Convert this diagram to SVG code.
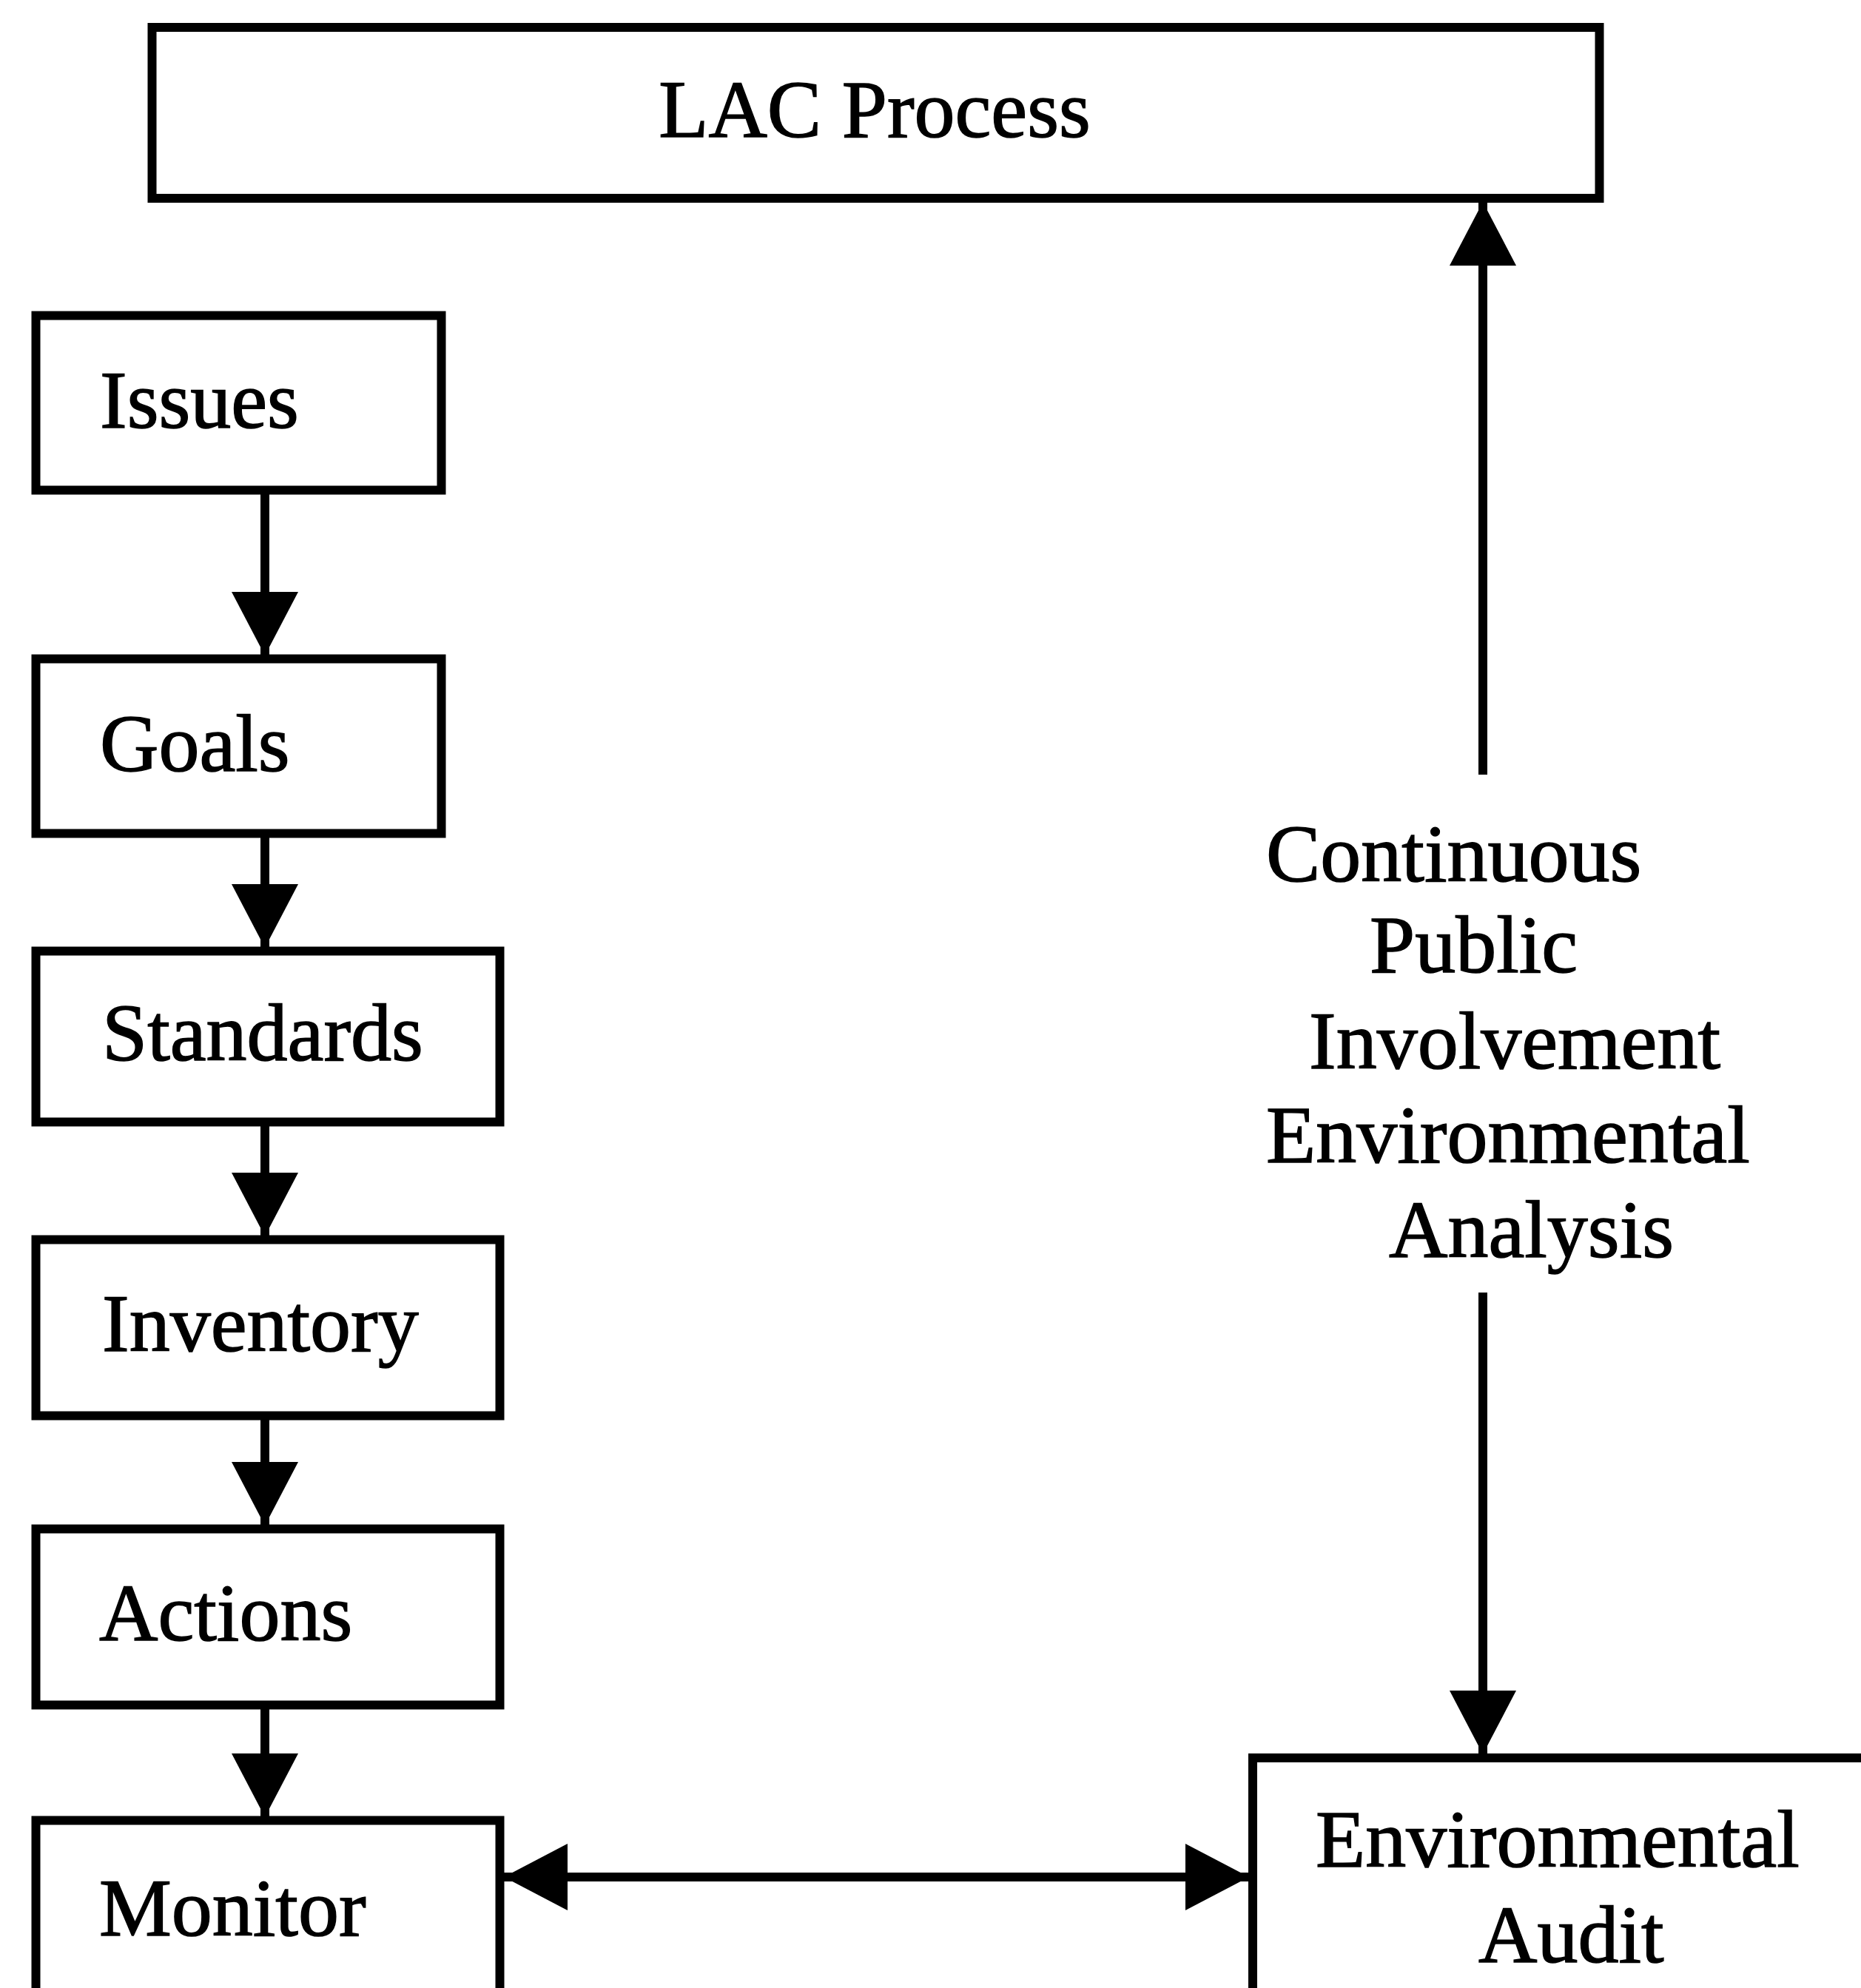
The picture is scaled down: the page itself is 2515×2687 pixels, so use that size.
<svg xmlns="http://www.w3.org/2000/svg" width="2515" height="2687" viewBox="0 0 2515 2687">
<style>
.box{fill:#fff;stroke:#000;stroke-width:12}
.lbl{font-family:"Liberation Serif","Times New Roman",serif;font-size:110px;fill:#000;stroke:#000;stroke-width:1.5}
.con{stroke:#000;stroke-width:12;fill:none}
</style>
<defs>
<marker id="ah" viewBox="0 0 86 90" refX="86" refY="45" markerWidth="86" markerHeight="90" markerUnits="userSpaceOnUse" orient="auto-start-reverse">
<path d="M0,0 L86,45 L0,90 z" fill="#000"/>
</marker>
</defs>
<rect width="2515" height="2687" fill="#fff"/>
<g id="lac">
<rect class="box" x="205.5" y="37" width="1956" height="231"/>
<text class="lbl" x="1182" y="185" text-anchor="middle">LAC Process</text>
</g>
<g id="issues">
<rect class="box" x="48.5" y="426.5" width="548" height="236"/>
<text class="lbl" x="135" y="578">Issues</text>
</g>
<g id="goals">
<rect class="box" x="48.5" y="890.5" width="548" height="236"/>
<text class="lbl" x="135" y="1042">Goals</text>
</g>
<g id="standards">
<rect class="box" x="48.5" y="1285.5" width="627" height="231"/>
<text class="lbl" x="138" y="1433">Standards</text>
</g>
<g id="inventory">
<rect class="box" x="48.5" y="1675.5" width="627" height="238"/>
<text class="lbl" x="138" y="1826">Inventory</text>
</g>
<g id="actions">
<rect class="box" x="48.5" y="2066.5" width="627" height="238"/>
<text class="lbl" x="134" y="2217">Actions</text>
</g>
<g id="monitor">
<rect class="box" x="48.5" y="2460.5" width="627" height="300"/>
<text class="lbl" x="134" y="2616">Monitor</text>
</g>
<g id="audit">
<rect class="box" x="1693" y="2376" width="900" height="400"/>
<text class="lbl" x="1778" y="2523">Environmental</text>
<text class="lbl" x="1998" y="2652">Audit</text>
</g>
<g id="analysis">
<text class="lbl" x="1711" y="1191">Continuous</text>
<text class="lbl" x="1851" y="1314">Public</text>
<text class="lbl" x="1769" y="1444">Involvement</text>
<text class="lbl" x="1711" y="1571">Environmental</text>
<text class="lbl" x="1877" y="1699">Analysis</text>
</g>
<g id="connectors">
<line class="con" x1="358" y1="668" x2="358" y2="886" marker-end="url(#ah)"/>
<line class="con" x1="358" y1="1132" x2="358" y2="1281" marker-end="url(#ah)"/>
<line class="con" x1="358" y1="1522" x2="358" y2="1671" marker-end="url(#ah)"/>
<line class="con" x1="358" y1="1919" x2="358" y2="2062" marker-end="url(#ah)"/>
<line class="con" x1="358" y1="2310" x2="358" y2="2456" marker-end="url(#ah)"/>
<line class="con" x1="2004" y1="1047" x2="2004" y2="273" marker-end="url(#ah)"/>
<line class="con" x1="2004" y1="1747" x2="2004" y2="2371" marker-end="url(#ah)"/>
<line class="con" x1="681" y1="2537" x2="1688" y2="2537" marker-start="url(#ah)" marker-end="url(#ah)"/>
</g>
</svg>
